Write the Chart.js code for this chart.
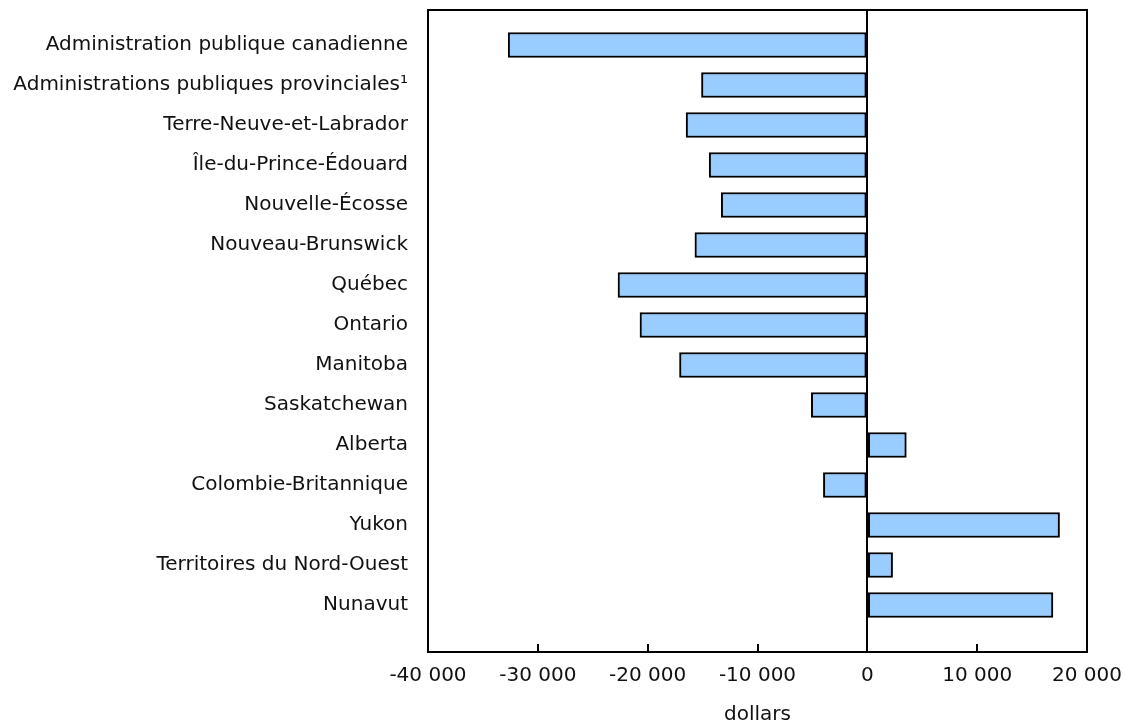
<!DOCTYPE html>
<html>
<head>
<meta charset="utf-8">
<script src="https://cdn.jsdelivr.net/npm/chart.js@4/dist/chart.umd.min.js"></script>
<style>
  html, body { margin: 0; padding: 0; background: #fff; }
  #wrap { width: 1123px; height: 723px; }
</style>
</head>
<body>
<div id="wrap"><canvas id="deficitChart"></canvas></div>
<script>
// Data
var regions = [
    'Administration publique canadienne',
    'Administrations publiques provinciales\u00b9',
    'Terre-Neuve-et-Labrador',
    '\u00cele-du-Prince-\u00c9douard',
    'Nouvelle-\u00c9cosse',
    'Nouveau-Brunswick',
    'Qu\u00e9bec',
    'Ontario',
    'Manitoba',
    'Saskatchewan',
    'Alberta',
    'Colombie-Britannique',
    'Yukon',
    'Territoires du Nord-Ouest',
    'Nunavut'
];
var dollars = [-32700, -15100, -16500, -14400, -13300, -15700, -22700, -20700, -17100, -5100, 3550, -4000, 17500, 2300, 16900];
var xTicks = [-40000, -30000, -20000, -10000, 0, 10000, 20000];

Chart.defaults.font.family = '"DejaVu Sans", Verdana, sans-serif';
Chart.defaults.font.size = 20;
Chart.defaults.color = '#111';

function formatNumber(v) {
    var s = Math.abs(v).toString().replace(/\B(?=(\d{3})+(?!\d))/g, ' ');
    return (v < 0 ? '-' : '') + s;
}

// frame around the plot + inward tick marks on the x axis
var framePlugin = {
    id: 'frame',
    afterDraw: function(chart) {
        var a = chart.chartArea;
        var ctx = chart.ctx;
        var xs = chart.scales.x;
        ctx.save();
        ctx.strokeStyle = '#000';
        ctx.lineWidth = 2;
        ctx.strokeRect(a.left, a.top, a.right - a.left, a.bottom - a.top);
        ctx.beginPath();
        xTicks.forEach(function(t) {
            var px = Math.round(xs.getPixelForValue(t));
            ctx.moveTo(px, a.bottom);
            ctx.lineTo(px, a.bottom - 8);
        });
        ctx.stroke();
        ctx.restore();
    }
};

var points = dollars.map(function(v, i) {
    return { x: v, y: i };
});

new Chart(document.getElementById('deficitChart'), {
    type: 'bar',
    data: {
        datasets: [{
            data: points,
            backgroundColor: '#99ccff',
            borderColor: '#000',
            borderWidth: 2,
            borderSkipped: false,
            barThickness: 25
        }]
    },
    plugins: [framePlugin],
    options: {
        indexAxis: 'y',
        responsive: true,
        maintainAspectRatio: false,
        animation: false,
        layout: {
            padding: { top: 10, right: 36, bottom: 0, left: 0 }
        },
        plugins: {
            legend: { display: false },
            tooltip: { enabled: false }
        },
        scales: {
            x: {
                type: 'linear',
                min: -40000,
                max: 20000,
                afterBuildTicks: function(axis) {
                    axis.ticks = xTicks.map(function(v) { return { value: v }; });
                },
                afterFit: function(axis) {
                    axis.height = 71;
                    axis.paddingLeft = 0;
                    axis.paddingRight = 0;
                },
                ticks: {
                    padding: 12,
                    maxRotation: 0,
                    callback: function(v) { return formatNumber(v); }
                },
                grid: {
                    drawTicks: false,
                    lineWidth: 2,
                    color: function(c) {
                        return c.tick && c.tick.value === 0 ? '#000' : 'rgba(0,0,0,0)';
                    }
                },
                border: { display: false },
                title: {
                    display: true,
                    text: 'dollars',
                    font: { lineHeight: 1 },
                    padding: { top: 0, bottom: -2 }
                }
            },
            y: {
                type: 'linear',
                reverse: true,
                offset: false,
                min: -0.875,
                max: 15.175,
                afterBuildTicks: function(axis) {
                    axis.ticks = regions.map(function(r, i) { return { value: i }; });
                },
                afterFit: function(axis) {
                    axis.width = 428;
                    axis.paddingTop = 0;
                    axis.paddingBottom = 0;
                },
                ticks: {
                    padding: 20,
                    autoSkip: false,
                    callback: function(v) { return regions[v]; }
                },
                grid: { display: false, drawTicks: false, offset: false },
                border: { display: false }
            }
        }
    }
});
</script>
</body>
</html>
